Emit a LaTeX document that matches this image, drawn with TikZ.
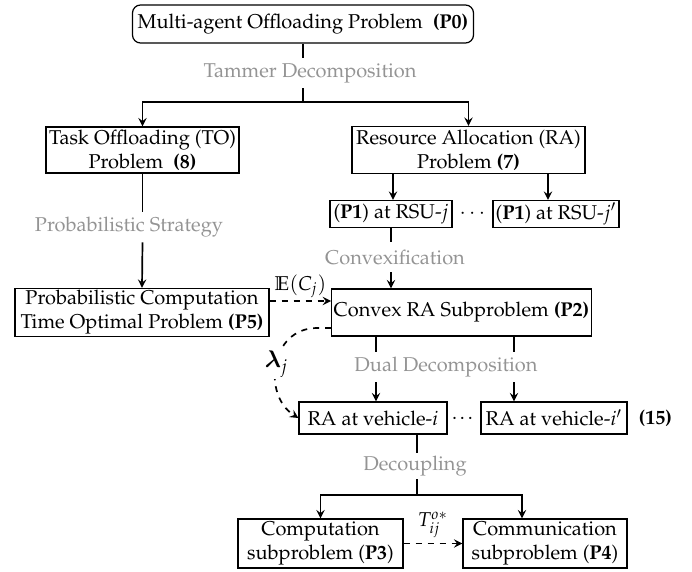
\documentclass[tikz,border=0pt]{standalone}
\usepackage[T1]{fontenc}
\usepackage{amsmath,amssymb,bm}
\usepackage{mathpazo}
\usetikzlibrary{arrows, arrows.meta, positioning, calc}
\tikzstyle{box} = [rectangle, text centered, align=center, draw=black, fill=white, line width=0.6pt, inner sep=1pt]
\tikzstyle{rbox} = [box, rounded corners=4pt]
\tikzstyle{steplabel} = [text=black!42, inner sep=0pt, minimum height=15pt]
\tikzstyle{line} = [line width=0.85pt]
\tikzstyle{arrow} = [line width=0.85pt,->,>=stealth]
\tikzstyle{darrow} = [line width=0.85pt,dashed,->,>=stealth]

\begin{document}
\begin{tikzpicture}[x=0.5pt, y=-0.5pt, font=\fontsize{10}{12}\selectfont]
\useasboundingbox (0,0) rectangle (692,572);
% upper part
\node (p0)[rbox, minimum width=170.5pt, minimum height=19pt] at (303,24) {Multi-agent Offloading Problem~~\textbf{(P0)}};
\node (tammer)[steplabel] at (310,73) {Tammer Decomposition};
\coordinate (fork1) at (303,102);
\node (to)[box, minimum width=96.5pt, minimum height=23pt] at (142.5,150) {Task Offloading (TO)\\Problem~~\textbf{(8)}};
\node (ra)[box, minimum width=116.5pt, minimum height=23.5pt] at (468.5,150) {Resource Allocation (RA)\\Problem \textbf{(7)}};
\node (p1a)[box, minimum width=61pt, minimum height=13.5pt] at (391,214) {(\textbf{P1}) at RSU-$j$};
\node (p1b)[box, minimum width=63pt, minimum height=13.5pt] at (556,214) {(\textbf{P1}) at RSU-$j'$};
\node (dots1) at (474,214) {$\cdots$};
\draw [line] (p0.south) -- (p0.south |- tammer.north);
\draw [line] (p0.south |- tammer.south) -- (fork1);
\draw [arrow] (fork1) -| (to);
\draw [arrow] (fork1) -| (ra);
\draw [arrow] ([xshift=-37.75pt]ra.south) -- ([xshift=-37.75pt]ra.south |- p1a.north);
\draw [arrow] ([xshift=39.75pt]ra.south) -- ([xshift=39.75pt]ra.south |- p1b.north);

% middle part
\node (prob)[steplabel] at (129,227) {Probabilistic Strategy};
\node (conv)[steplabel] at (395,257) {Convexification};
\node (p5)[box, minimum width=127pt, minimum height=23.5pt] at (142,312.5) {Probabilistic Computation\\Time Optimal Problem \textbf{(P5)}};
\node (p2)[box, minimum width=128.5pt, minimum height=23.5pt] at (461.5,312.5) {Convex RA Subproblem \textbf{(P2)}};
\draw [line] (to.south) -- (to.south |- prob.north);
\draw [arrow] (to.south |- prob.south) -- (p5.north);
\draw [line] (p1a.south) -- (p1a.south |- conv.north);
\draw [arrow] (p1a.south |- conv.south) -- (p1a.south |- p2.north);
\draw [darrow] ([yshift=5.75pt]p5.east) -- ([yshift=5.75pt]p5.east -| p2.west) node[midway, above, inner sep=1pt] {$\mathbb{E}(C_j)$};

% lower part
\node (dual)[steplabel] at (446,367) {Dual Decomposition};
\node (ravia)[box, minimum width=74pt, minimum height=16pt] at (373,418) {RA at vehicle-$i$};
\node (ravib)[box, minimum width=73pt, minimum height=16pt] at (554,418) {RA at vehicle-$i'$};
\node (dots2) at (464,418) {\dots};
\node (eq15)[right=2pt of ravib] {\textbf{(15)}};
\draw [line] ([xshift=-42.75pt]p2.south) -- ([xshift=-42.75pt]p2.south |- dual.north);
\draw [arrow] ([xshift=-42.75pt]p2.south |- dual.south) -- ([xshift=-42.75pt]p2.south |- ravia.north);
\draw [line] ([xshift=26.25pt]p2.south) -- ([xshift=26.25pt]p2.south |- dual.north);
\draw [arrow] ([xshift=26.25pt]p2.south |- dual.south) -- ([xshift=26.25pt]p2.south |- ravib.north);
\draw [darrow] ([yshift=-7.75pt]p2.west) -- ++(-14,0) .. controls (270,328) and (262,395) .. (ravia.west) node[pos=0.5, fill=white, inner sep=1pt, font=\fontsize{12}{12}\selectfont] {$\boldsymbol{\lambda}_j$};

\node (decoup)[steplabel, minimum height=13pt] at (415,466) {Decoupling};
\coordinate (fork2) at (417,495);
\node (comp)[box, minimum width=82.5pt, minimum height=24.5pt] at (320.5,543.5) {Computation\\subproblem (\textbf{P3})};
\node (comm)[box, minimum width=82pt, minimum height=24.5pt] at (545,543.5) {Communication\\subproblem (\textbf{P4})};
\draw [line] ([xshift=22pt]ravia.south) -- ([xshift=22pt]ravia.south |- decoup.north);
\draw [line] ([xshift=22pt]ravia.south |- decoup.south) -- (fork2);
\draw [arrow] (fork2) -| (comp);
\draw [arrow] (fork2) -| ([xshift=-11.5pt]comm.north);
\draw [darrow] (comp) -- (comm) node[midway, above, inner sep=2.5pt] {$T_{ij}^{o*}$};
\end{tikzpicture}
\end{document}
